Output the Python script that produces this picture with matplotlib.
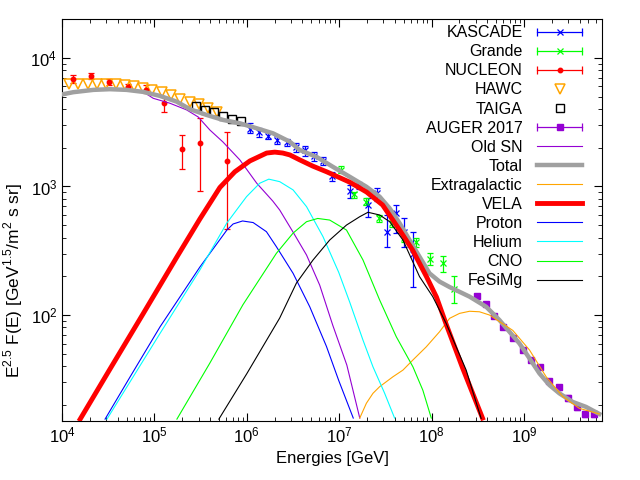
import numpy as np
import matplotlib
matplotlib.use("Agg")
import matplotlib.pyplot as plt
from matplotlib.lines import Line2D
from matplotlib.legend_handler import HandlerLine2D

plt.rcParams["font.family"] = ["Liberation Sans", "DejaVu Sans"]

# ---- measured data ----
kascade_E = [1.08e6, 1.36e6, 1.70e6, 2.14e6, 2.69e6, 3.39e6, 4.24e6, 5.35e6, 6.68e6,
             8.40e6, 1.31e7, 1.63e7, 2.05e7, 2.58e7, 3.29e7, 4.11e7, 5.0e7, 6.28e7]
kascade_F = [2800, 2630, 2470, 2300, 2200, 2010, 1910, 1740, 1590,
             1210, 923, 1030, 718, 895, 443, 618, 445, 298]
kascade_lo = [2610, 2440, 2330, 2150, 2080, 1850, 1730, 1580, 1470,
              1110, 809, 957, 582, 771, 340, 432, 340, 166]
kascade_hi = [3090, 2850, 2660, 2460, 2360, 2170, 2050, 1870, 1700,
              1300, 1030, 1090, 809, 968, 600, 724, 569, 445]

grande_E = [1.04e7, 1.45e7, 1.97e7, 2.69e7, 3.76e7, 5.02e7, 6.84e7, 9.51e7, 1.32e8, 1.77e8]
grande_F = [1340, 869, 763, 566, 523, 395, 372, 271, 252, 159]
grande_lo = [1270, 809, 718, 532, 486, 372, 340, 245, 217, 123]
grande_hi = [1430, 911, 819, 600, 566, 420, 395, 302, 288, 202]

nucleon_E = [1.32e4, 2.06e4, 3.25e4, 5.21e4, 8.1e4, 1.28e5, 2.0e5, 3.1e5, 6.04e5]
nucleon_F = [6820, 7240, 6470, 5990, 5640, 4490, 1950, 2170, 1580]
nucleon_lo = [6430, 6820, 6140, 5710, 5310, 3780, 1360, 923, 465]
nucleon_hi = [7330, 7690, 6820, 6280, 6140, 5000, 2500, 3400, 2640]

hawc_E = [1.2e4, 1.5e4, 1.9e4, 2.4e4, 3.0e4, 3.8e4, 4.8e4, 6.0e4, 7.6e4, 9.5e4,
          1.2e5, 1.5e5, 1.9e5, 2.4e5, 3.0e5, 3.8e5, 4.7e5]
hawc_F = [6290, 6290, 6290, 6290, 6290, 6290, 6170, 6060, 5850, 5640,
          5440, 5150, 4800, 4550, 4350, 4080, 3800]

taiga_E = [2.84e5, 3.52e5, 4.40e5, 5.55e5, 6.94e5, 8.61e5]
taiga_F = [4200, 3940, 3770, 3540, 3350, 3240]

auger_E = [3.09e8, 3.84e8, 4.80e8, 6.0e8, 7.57e8, 9.7e8, 1.18e9, 1.50e9, 1.89e9,
           2.38e9, 2.98e9, 3.73e9, 4.62e9, 5.78e9]
auger_F = [141, 121, 98, 81, 66.6, 53.4, 44.7, 39.6, 30.8, 27.4, 22.5, 19.3, 17, 17]
auger_err = [4, 3, 3, 2, 2, 2, 1.5, 1.5, 1.2, 1.2, 1.2, 1, 1, 1]

# ---- model curves ----
oldsn_E = [1.0e4, 1.32e4, 2.18e4, 3.30e4, 5.0e4, 7.57e4, 9.7e4, 1.47e5, 2.23e5, 2.98e5,
           3.98e5, 5.51e5, 8.40e5, 1.28e6, 1.91e6, 2.27e6, 3.17e6, 4.43e6, 6.15e6,
           8.51e6, 1.21e7, 1.67e7]
oldsn_F = [5200, 5410, 5640, 5710, 5640, 5440, 4850, 4440, 3940, 3470,
           2750, 2220, 1610, 1060, 770, 656, 441, 293, 171,
           83.5, 40.8, 15.8]

total_E = [1.0e4, 1.32e4, 2.18e4, 3.30e4, 5.0e4, 7.57e4, 1.15e5, 1.74e5, 2.42e5, 3.67e5,
           5.55e5, 8.40e5, 1.27e6, 1.92e6, 2.92e6, 3.74e6, 5.68e6, 8.57e6, 1.30e7,
           1.97e7, 2.74e7, 3.52e7, 4.51e7, 5.78e7, 7.41e7, 9.51e7, 1.22e8, 1.57e8,
           2.58e8, 3.90e8, 5.43e8, 6.97e8, 8.93e8, 1.15e9, 1.47e9, 1.89e9, 2.42e9,
           3.37e9, 4.70e9, 6.55e9]
total_F = [5200, 5410, 5640, 5710, 5640, 5440, 5060, 4570, 3990, 3600,
           3290, 3100, 2840, 2590, 2230, 1920, 1700, 1420, 1190,
           995, 833, 676, 518, 383, 284, 211, 182, 165,
           139, 116, 91.4, 74.1, 60.2, 46, 35.2, 28.5, 24.6,
           21.1, 19.3, 17]

extra_E = [1.67e7, 1.97e7, 2.32e7, 2.74e7, 3.82e7, 4.90e7, 6.28e7, 8.77e7, 1.22e8,
           1.57e8, 2.01e8, 2.58e8, 3.30e8, 4.24e8, 7.57e8, 1.15e9, 1.74e9, 2.62e9,
           3.98e9, 6.55e9]
extra_F = [15.8, 20.6, 24.6, 27.7, 33.1, 37.3, 44.7, 56.6, 74.1,
           94.3, 103, 107, 106, 100, 76, 53.4, 33.1, 23.3,
           18.8, 17]

vela_E = [1.57e4, 3.30e4, 7.52e4, 1.75e5, 3.10e5, 5.11e5, 7.41e5, 1.08e6, 1.64e6,
          2.01e6, 2.45e6, 2.92e6, 3.74e6, 5.18e6, 7.33e6, 1.30e7, 1.98e7, 2.95e7,
          4.51e7, 6.23e7, 8.84e7, 1.13e8, 1.45e8, 2.16e8, 3.56e8]
vela_F = [15.5, 38, 102, 283, 558, 982, 1300, 1580, 1820,
          1850, 1820, 1760, 1610, 1440, 1300, 1080, 905, 718,
          458, 320, 198, 138, 83.6, 39, 15.8]

proton_E = [2.92e4, 5.43e4, 1.15e5, 3.10e5, 6.08e5, 7.11e5, 8.99e5, 1.17e6, 1.63e6,
            2.09e6, 3.17e6, 4.80e6, 7.28e6, 9.88e6, 1.42e7]
proton_F = [15.5, 32.9, 81, 236, 458, 511, 539, 524, 445,
            340, 211, 116, 57, 31, 15.8]

helium_E = [3.06e4, 1.15e5, 3.10e5, 6.08e5, 9.93e5, 1.38e6, 1.73e6, 2.27e6, 3.17e6,
            4.43e6, 6.68e6, 9.88e6, 1.30e7, 1.81e7, 2.32e7, 3.10e7, 3.98e7]
helium_F = [15.5, 72, 224, 520, 833, 1060, 1140, 1090, 940,
            697, 407, 215, 126, 63.8, 39.6, 24.7, 15.8]

cno_E = [1.75e5, 3.98e5, 9.06e5, 2.09e6, 3.17e6, 4.43e6, 5.86e6, 7.89e6, 1.20e7,
         1.81e7, 2.74e7, 4.15e7, 6.28e7, 8.05e7, 9.93e7]
cno_F = [15.5, 42.3, 120, 302, 434, 532, 564, 548, 458,
         268, 131, 67.8, 39.6, 26, 15.8]

fe_E = [4.98e5, 1.0e6, 2.27e6, 3.44e6, 5.21e6, 7.89e6, 1.20e7, 1.67e7, 2.05e7,
        2.74e7, 3.52e7, 4.90e7, 7.41e7, 1.03e8, 1.44e8, 2.37e8, 3.44e8]
fe_F = [15.5, 35, 94.8, 177, 268, 383, 501, 582, 630,
        600, 532, 383, 199, 139, 86, 37.3, 15.7]

fig, ax = plt.subplots(figsize=(6.4, 4.8), dpi=100)
fig.subplots_adjust(left=0.097, right=0.9406, bottom=0.123, top=0.960)


def asym(F, lo, hi):
    F, lo, hi = np.array(F), np.array(lo), np.array(hi)
    return [F - lo, hi - F]


c_kas, c_gra, c_nuc = "#0000ff", "#00ff00", "#ff0000"
c_hawc, c_aug, c_old = "#ffa500", "#9400d3", "#9400d3"
eb = dict(elinewidth=0.9, capsize=2.5, capthick=0.9)

ax.errorbar(kascade_E, kascade_F, yerr=asym(kascade_F, kascade_lo, kascade_hi),
            fmt="x", color=c_kas, ms=4, mew=0.9, zorder=2, **eb)
ax.errorbar(grande_E, grande_F, yerr=asym(grande_F, grande_lo, grande_hi),
            fmt="x", color=c_gra, ms=4, mew=0.9, zorder=2, **eb)
ax.errorbar(nucleon_E, nucleon_F, yerr=asym(nucleon_F, nucleon_lo, nucleon_hi),
            fmt="o", color=c_nuc, ms=3.2, zorder=2, **eb)
ax.plot(hawc_E, hawc_F, "v", ms=6.5, mfc="none", mec=c_hawc, mew=1.1, zorder=2)
ax.plot(taiga_E, taiga_F, "s", ms=5.5, mfc="none", mec="black", mew=1, zorder=2)
ax.errorbar(auger_E, auger_F, yerr=auger_err, fmt="s", color=c_aug, ms=4.2,
            zorder=2, **eb)

ax.plot(oldsn_E, oldsn_F, color=c_old, lw=0.8, zorder=3)
ax.plot(total_E, total_F, color="#a0a0a0", lw=3.2, zorder=4)
ax.plot(extra_E, extra_F, color="#ffa500", lw=0.8, zorder=5)
ax.plot(vela_E, vela_F, color="#ff0000", lw=3.5, zorder=6)
ax.plot(proton_E, proton_F, color="#0000ff", lw=0.8, zorder=7)
ax.plot(helium_E, helium_F, color="#00ffff", lw=0.8, zorder=7)
ax.plot(cno_E, cno_F, color="#00ff00", lw=0.8, zorder=7)
ax.plot(fe_E, fe_F, color="black", lw=0.8, zorder=7)

ax.set_xscale("log")
ax.set_yscale("log")
ax.set_xlim(1e4, 7e9)
ax.set_ylim(15, 2e4)
ax.tick_params(which="both", direction="in", top=True, right=True, labelsize=12)
ax.tick_params(which="major", length=6)
ax.tick_params(which="minor", length=3)
ax.set_xlabel("Energies [GeV]", fontsize=12)
ax.set_ylabel(r"E$^{\mathdefault{2.5}}$ F(E) [GeV$^{\mathdefault{1.5}}$/m$^{\mathdefault{2}}$ s sr]",
              fontsize=12.5)
ax.yaxis.set_label_coords(-0.068, 0.35)

# ---- legend in gnuplot style ----
def cap_line(c):
    return Line2D([], [], color=c, lw=0.9, marker="|", ms=6, mew=0.9)


caps = [cap_line(c_kas), cap_line(c_gra), cap_line(c_nuc), cap_line(c_aug)]
handles = [
    (caps[0], Line2D([], [], color=c_kas, ls="none", marker="x", ms=4, mew=0.9)),
    (caps[1], Line2D([], [], color=c_gra, ls="none", marker="x", ms=4, mew=0.9)),
    (caps[2], Line2D([], [], color=c_nuc, ls="none", marker="o", ms=3.2)),
    Line2D([], [], ls="none", marker="v", ms=6.5, mfc="none", mec=c_hawc, mew=1.1),
    Line2D([], [], ls="none", marker="s", ms=5.5, mfc="none", mec="black", mew=1),
    (caps[3], Line2D([], [], color=c_aug, ls="none", marker="s", ms=4.2)),
    Line2D([], [], color=c_old, lw=0.8),
    Line2D([], [], color="#a0a0a0", lw=3.2),
    Line2D([], [], color="#ffa500", lw=0.8),
    Line2D([], [], color="#ff0000", lw=3.5),
    Line2D([], [], color="#0000ff", lw=0.8),
    Line2D([], [], color="#00ffff", lw=0.8),
    Line2D([], [], color="#00ff00", lw=0.8),
    Line2D([], [], color="black", lw=0.8),
]
labels = ["KASCADE", "Grande", "NUCLEON", "HAWC", "TAIGA", "AUGER 2017", "Old SN",
          "Total", "Extragalactic", "VELA", "Proton", "Helium", "CNO", "FeSiMg"]
hmap = {h: HandlerLine2D(numpoints=2, marker_pad=0) for h in caps}
ax.legend(handles, labels, handler_map=hmap, loc="upper right",
          bbox_to_anchor=(0.963, 0.985), frameon=False, markerfirst=False,
          fontsize=11.5, handlelength=2.8, handletextpad=0.9, labelspacing=0.255,
          borderpad=0, borderaxespad=0)

fig.savefig("out.png", dpi=100)
